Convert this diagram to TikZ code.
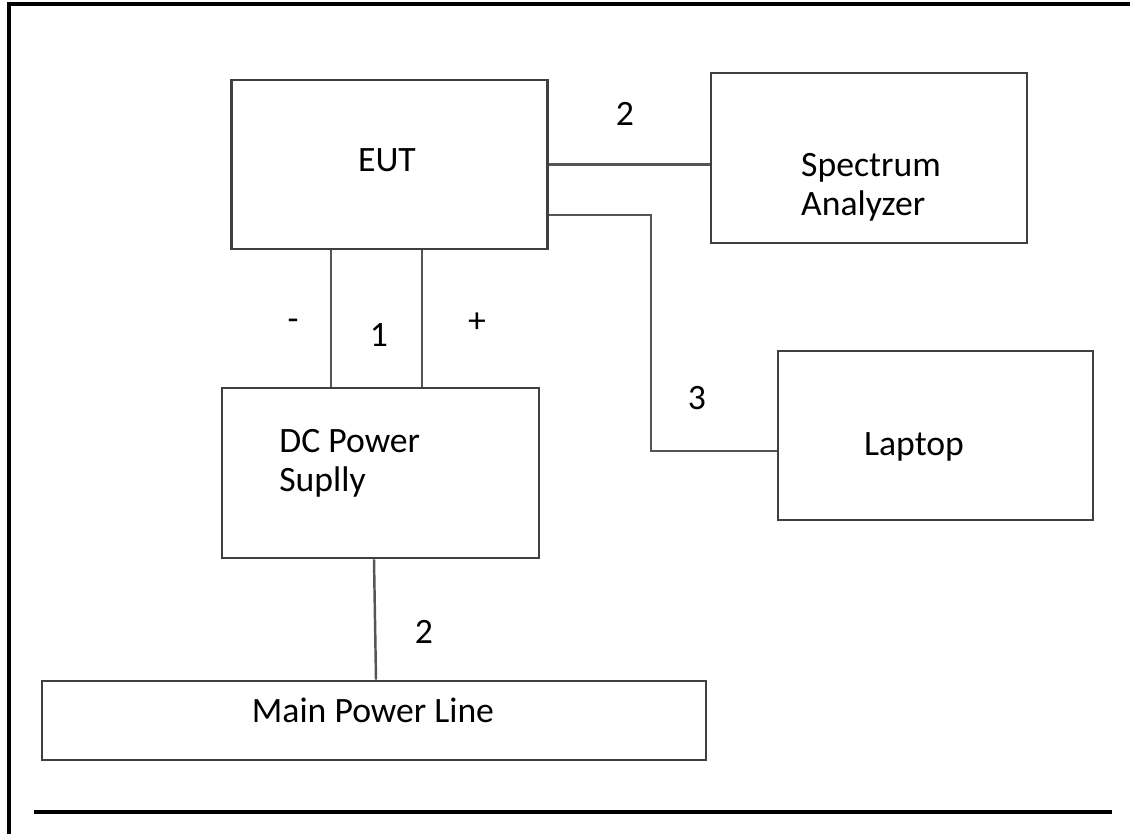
\documentclass[tikz,border=0pt]{standalone}
\usepackage{fontspec}
\setmainfont{Carlito}
\definecolor{boxgray}{HTML}{3F3F3F}
\definecolor{wiregray}{HTML}{555555}
\tikzset{
  unit/.style={draw=boxgray, line width=1.5pt, inner sep=0pt},
  wire/.style={draw=wiregray, line width=1.4pt},
  lbl/.style={inner sep=0pt, font=\fontsize{20.3}{22}\selectfont},
  frameline/.style={draw=black, line width=2.4pt}
}

\begin{document}
\begin{tikzpicture}[x=0.2mm,y=-0.2mm]
\useasboundingbox (0,0) rectangle (1130,834);
% page frame
\draw[frameline] (9,834)--(9,4)--(1130,4);
\draw[frameline] (34,812)--(1112,812);
% units
\node[unit, minimum width=6.32cm, minimum height=3.38cm] (eut) at (389.5,164.5) {};
\node[unit, minimum width=6.32cm, minimum height=3.40cm] (sa) at (869,158) {};
\node[unit, minimum width=6.30cm, minimum height=3.38cm] (lap) at (935.5,435.5) {};
\node[unit, minimum width=6.34cm, minimum height=3.40cm] (dc) at (380.5,473) {};
\node[unit, minimum width=13.28cm, minimum height=1.58cm] (mpl) at (374,720.5) {};
% texts
\node[lbl] (eutlbl) at (387,160) {EUT};
\node[lbl, align=left] (salbl) at (871,187) {Spectrum\\Analyzer};
\node[lbl] (laplbl) at (914,447) {Laptop};
\node[lbl, align=left, anchor=west] (dclbl) at (279,463) {DC Power\\Suplly};
\node[lbl] (mpllbl) at (373,710) {Main Power Line};
% wires
\coordinate (neg) at (331,0);
\coordinate (pos) at (422,0);
\draw[wire] (eut.south -| neg) -- (dc.north -| neg);
\draw[wire] (eut.south -| pos) -- (dc.north -| pos);
\draw[wire] (eut.east) -- (eut.east -| sa.west);
\coordinate (lapa) at (651,215);
\coordinate (lapb) at (651,451);
\draw[wire] (eut.east |- lapa) -- (lapa) -- (lapb) -- (lap.west |- lapb);
\coordinate (mains) at (376,0);
\draw[wire] ([xshift=-0.4mm]dc.south -| mains) -- (mpl.north -| mains);
% wire numbers
\node[lbl] (nminus) at (293,325) {-};
\node[lbl] (none) at (379,335) {1};
\node[lbl] (nplus) at (477,323) {+};
\node[lbl] (ntwoa) at (625,114) {2};
\node[lbl] (nthree) at (697,398) {3};
\node[lbl] (ntwob) at (424,632) {2};
\end{tikzpicture}
\end{document}
